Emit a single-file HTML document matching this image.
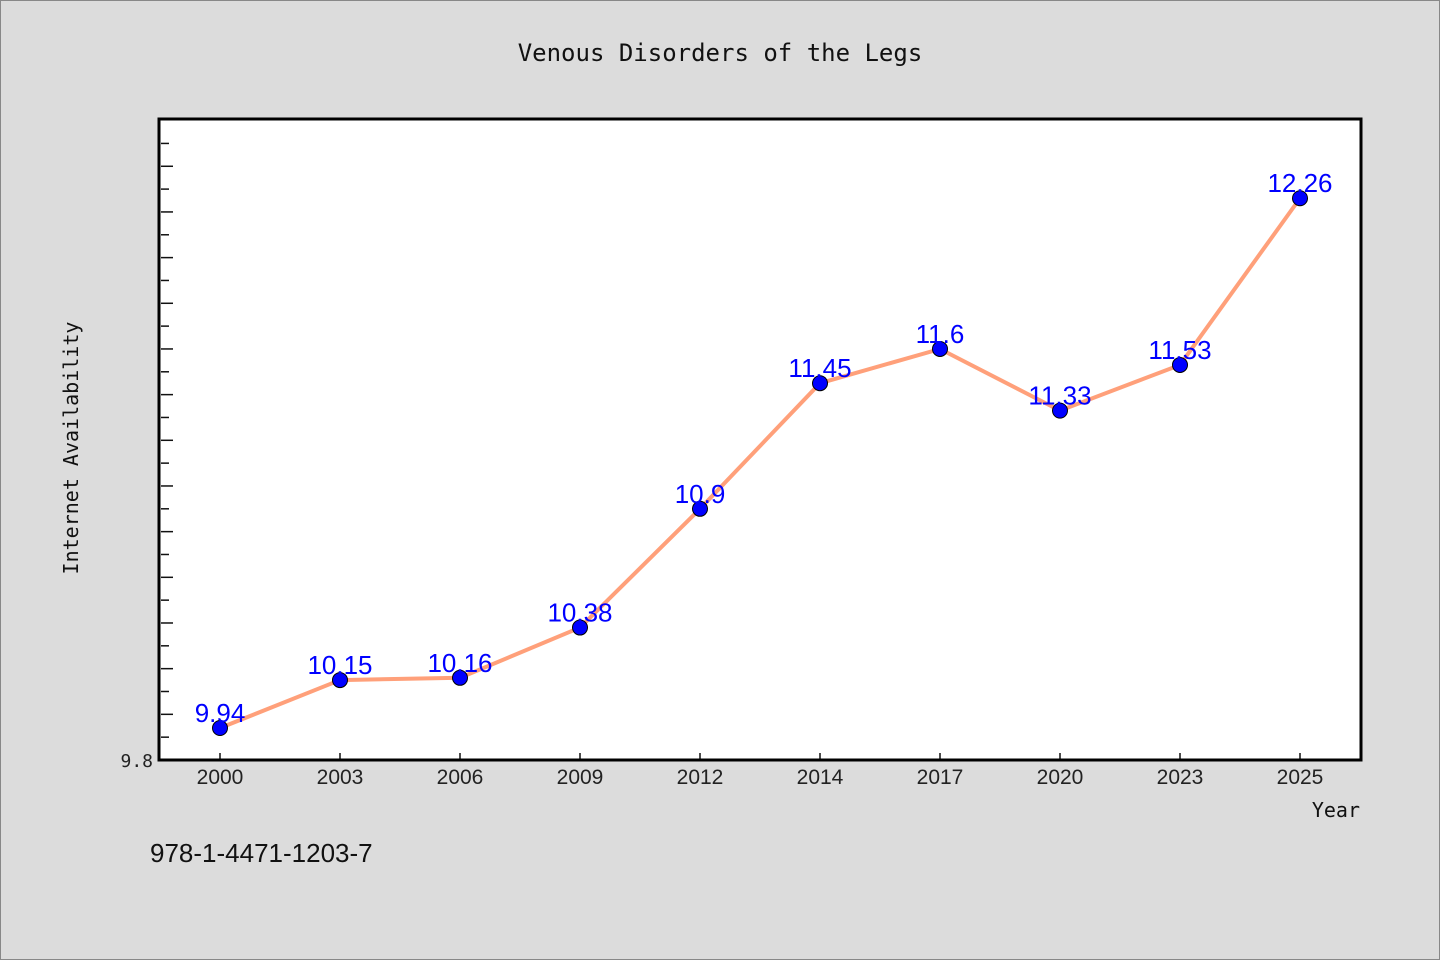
<!DOCTYPE html>
<html><head><meta charset="utf-8"><style>
body{margin:0;background:#dcdcdc;}
svg{display:block;font-family:"DejaVu Sans Mono","Liberation Mono",monospace;}
</style></head><body>
<svg width="1440" height="960">
<rect x="0.5" y="0.5" width="1439" height="959" fill="#dcdcdc" stroke="#888"/>
<text x="720" y="61" text-anchor="middle" font-size="24" fill="#111">Venous Disorders of the Legs</text>
<rect x="159" y="119" width="1202" height="641" fill="#fff"/>
<g id="yt"></g><g id="xt"></g>
<polyline id="line" fill="none" stroke="#ffa07a" stroke-width="4"/>
<g id="pts"></g>
<rect x="159" y="119" width="1202" height="641" fill="none" stroke="#000" stroke-width="3"/>
<text x="78" y="448" transform="rotate(-90 78 448)" text-anchor="middle" font-size="20" fill="#111">Internet Availability</text>
<text x="1360" y="817" text-anchor="end" font-size="20" fill="#111">Year</text>
<text x="150" y="862" font-size="26" fill="#111" font-family="Liberation Sans, sans-serif">978-1-4471-1203-7</text>
</svg>
<script>
const categories=["2000","2003","2006","2009","2012","2014","2017","2020","2023","2025"];
const values=[9.94,10.15,10.16,10.38,10.9,11.45,11.6,11.33,11.53,12.26];
const labels=["9.94","10.15","10.16","10.38","10.9","11.45","11.6","11.33","11.53","12.26"];
const yMin=9.8,yMax=12.607;
const NS="http://www.w3.org/2000/svg";
function sx(i){return 220+i*120;}
function sy(v){return 760-(v-yMin)/(yMax-yMin)*641;}
function mk(t,a,p){const e=document.createElementNS(NS,t);for(const k in a)e.setAttribute(k,a[k]);p.appendChild(e);return e;}
const yt=document.getElementById('yt');
for(let k=1;k<=28;k++){const v=yMin+k*0.1;const y=sy(v);if(y<121)break;
const l=mk('line',{x1:161,x2:k%2==0?173:169,y1:y,y2:y,stroke:'#111','stroke-width':1.5},yt);

}
const yl=mk('text',{x:153,y:767,'text-anchor':'end','font-size':18,fill:'#222'},yt);yl.textContent='9.8';


const xt=document.getElementById('xt');
categories.forEach((c,i)=>{const l=mk('line',{x1:sx(i),x2:sx(i),y1:753,y2:760,stroke:'#111','stroke-width':1.5},xt);


const t=mk('text',{x:sx(i),y:784,'text-anchor':'middle','font-size':21,fill:'#222','font-family':'Liberation Sans, sans-serif'},xt);t.textContent=c;

});
document.getElementById('line').setAttribute('points',values.map((v,i)=>sx(i)+','+sy(v)).join(' '));
const pts=document.getElementById('pts');
values.forEach((v,i)=>{const c=mk('circle',{cx:sx(i),cy:sy(v),r:7.5,fill:'#0000ff',stroke:'#000','stroke-width':1},pts);


const t=mk('text',{x:sx(i),y:sy(v)-6,'text-anchor':'middle','font-size':26,fill:'#0000ff','font-family':'Liberation Sans, sans-serif'},pts);t.textContent=labels[i];

});
</script>
</body></html>
